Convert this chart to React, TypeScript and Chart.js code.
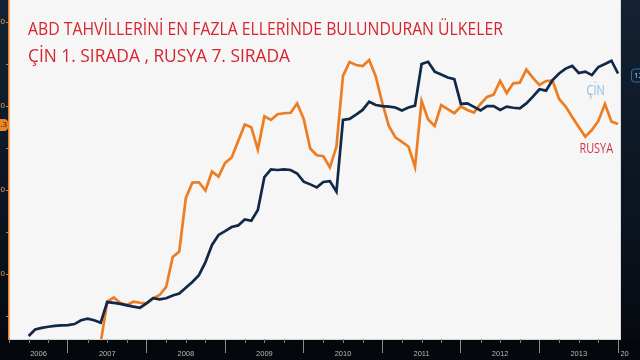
import React, { useEffect, useRef } from 'react';
import { Chart, registerables } from 'chart.js';
Chart.register(...registerables);

// Monthly data, July 2006 .. January 2014 (index 0 = Jul 2006, index 6 = Jan 2007)
const START_YEAR = 2006;
const START_MONTH = 7;

// China holdings of US Treasuries (bn $), right axis
const chinaValues = [
  303, 327, 333, 337, 340, 342, 343, 347, 361, 367, 361, 352,
  428, 425, 421, 416, 411, 407, 423, 442, 438, 442, 452, 459,
  481, 502, 527, 575, 638, 675, 689, 704, 710, 732, 727, 767,
  888, 916, 914, 916, 914, 901, 871, 861, 850, 870, 873, 834,
  1098, 1102, 1118, 1135, 1165, 1153, 1149, 1147, 1144, 1133, 1144, 1151,
  1304, 1312, 1276, 1265, 1254, 1248, 1157, 1159, 1146, 1133, 1149, 1149,
  1135, 1147, 1143, 1141, 1159, 1184, 1211, 1206, 1245, 1269, 1287, 1297,
  1271, 1276, 1263, 1293, 1304, 1316, 1269,
];

// Russia holdings of US Treasuries (bn $), left axis
const russiaValues = [
  null, null, null, null, null, null, null, null, null, null, null, 9,
  33.5, 36.0, 32.7, 31.6, 33.5, 32.9, 32.6, 35.5, 37.5, 42.3, 60.1, 63.4,
  95.2, 104.4, 104.6, 99.7, 111.0, 108.0, 116.1, 119.4, 129.2, 139.0, 137.3, 124.1,
  143.8, 141.7, 145.1, 145.7, 146.0, 151.5, 142.3, 124.7, 120.7, 120.1, 113.4, 125.8,
  167.9, 176.2, 174.4, 173.8, 177.4, 167.6, 151.8, 138.1, 131.3, 128.6, 125.9, 113.7,
  153.0, 142.0, 138.1, 150.6, 148.2, 145.7, 149.7, 147.6, 146.1, 151.2, 155.4, 156.8,
  164.9, 157.7, 163.5, 163.9, 171.7, 166.7, 162.5, 164.9, 165.1, 154.2, 149.7, 143.5,
  137.5, 131.8, 135.7, 141.1, 151.2, 140.7, 139.3,
];

const yearLabels = ['2006', '2007', '2008', '2009', '2010', '2011', '2012', '2013', '20'];
const russiaTicks = [50, 100, 150, 200];
const russiaMinorTicks = [25, 75, 125, 175];
const titleLines = [
  'ABD TAHVİLLERİNİ EN FAZLA ELLERİNDE BULUNDURAN ÜLKELER',
  'ÇİN 1. SIRADA , RUSYA 7. SIRADA',
];
const seriesNames = ['ÇİN', 'RUSYA'];

const X_MIN = -3;
const X_MAX = 90.3;
const FIRST_JAN = 13 - START_MONTH; // index of January of the year after start

const monthLabels = chinaValues.map((_, i) => {
  const m = START_MONTH - 1 + i;
  return `${START_YEAR + Math.floor(m / 12)}-${String((m % 12) + 1).padStart(2, '0')}`;
});

const FONT = "'Open Sans', 'DejaVu Sans', sans-serif";

const bgPlugin = {
  id: 'bg',
  beforeDraw(chart: any) {
    const { ctx, width, height, chartArea } = chart;
    ctx.save();
    ctx.fillStyle = '#04070b';
    ctx.fillRect(0, 0, width, height);
    const gr = ctx.createLinearGradient(0, 0, 0, height);
    gr.addColorStop(0, '#142233');
    gr.addColorStop(0.6, '#0b1420');
    gr.addColorStop(1, '#05080c');
    ctx.fillStyle = gr;
    ctx.fillRect(chartArea.right, 0, width - chartArea.right, chartArea.bottom);
    ctx.fillRect(0, 0, chartArea.left, chartArea.bottom);
    ctx.fillStyle = '#f6f6f6';
    ctx.fillRect(chartArea.left, chartArea.top, chartArea.right - chartArea.left, chartArea.bottom - chartArea.top);
    ctx.restore();
  },
};

const overlayPlugin = {
  id: 'overlay',
  afterDraw(chart: any) {
    const { ctx, chartArea } = chart;
    const xs = chart.scales.x;
    const yl = chart.scales.yL;
    const yr = chart.scales.yR;
    ctx.save();

    // quarterly minor ticks on the time axis
    ctx.strokeStyle = '#808080';
    ctx.lineWidth = 1;
    for (let q = FIRST_JAN - 12; q <= X_MAX; q += 3) {
      if ((q - FIRST_JAN) % 12 === 0 || q < X_MIN) continue;
      const px = Math.round(xs.getPixelForValue(q)) + 0.5;
      ctx.beginPath();
      ctx.moveTo(px, chartArea.bottom);
      ctx.lineTo(px, chartArea.bottom + 4);
      ctx.stroke();
    }

    // title
    ctx.font = `19px ${FONT}`;
    ctx.fillStyle = '#d6242f';
    ctx.textBaseline = 'alphabetic';
    ctx.textAlign = 'left';
    const widths = [475, 262];
    const baselines = [34.5, 61.5];
    titleLines.forEach((line, k) => {
      const w = ctx.measureText(line).width;
      ctx.save();
      ctx.translate(28, 0);
      ctx.scale(widths[k] / w, 1);
      ctx.fillText(line, 0, baselines[k]);
      ctx.restore();
    });

    // series names
    ctx.font = `14px ${FONT}`;
    ctx.save();
    ctx.translate(xs.getPixelForValue(85.2), 0);
    ctx.scale(0.78, 1);
    ctx.fillStyle = '#8dbae4';
    ctx.fillText(seriesNames[0], 0, yr.getPixelForValue(1190));
    ctx.restore();
    ctx.save();
    ctx.translate(xs.getPixelForValue(84.1), 0);
    ctx.scale(0.78, 1);
    ctx.fillStyle = '#d0304a';
    ctx.fillText(seriesNames[1], 0, yl.getPixelForValue(122));
    ctx.restore();

    // last value tags
    const lastC = chinaValues[chinaValues.length - 1];
    const cy = yr.getPixelForValue(lastC) + 2;
    ctx.fillStyle = '#0c2036';
    ctx.strokeStyle = '#3d6c9c';
    ctx.beginPath();
    ctx.roundRect(631.5, cy - 6.5, 30, 13, 3);
    ctx.fill();
    ctx.stroke();
    ctx.fillStyle = '#b9d4ee';
    ctx.font = `8px ${FONT}`;
    ctx.textBaseline = 'middle';
    ctx.fillText(String(lastC), 634, cy);

    const lastR = russiaValues[russiaValues.length - 1] as number;
    const ry = yl.getPixelForValue(lastR) + 1;
    ctx.fillStyle = '#ef8424';
    ctx.beginPath();
    ctx.roundRect(-20, ry - 6, 28, 12, 4);
    ctx.fill();
    ctx.fillStyle = '#2a1400';
    ctx.textAlign = 'right';
    ctx.fillText(lastR.toFixed(1), 7, ry);
    ctx.restore();
  },
};

function yearCentre(k: number) {
  const start = FIRST_JAN + (k - 1) * 12;
  const a = Math.max(X_MIN, start);
  const b = Math.min(X_MAX, start + 12);
  if (b - a < 1) return 91;
  return (a + b) / 2;
}

export default function App() {
  const ref = useRef<HTMLCanvasElement>(null);
  useEffect(() => {
    const labelTickValues = yearLabels.map((_, k) => yearCentre(k));
    const boundaryValues: number[] = [];
    for (let v = FIRST_JAN; v <= X_MAX; v += 12) boundaryValues.push(v);

    const chart = new Chart(ref.current as HTMLCanvasElement, {
      type: 'line',
      data: {
        labels: monthLabels,
        datasets: [
          {
            label: 'Çin',
            data: chinaValues.map((v, i) => ({ x: i, y: v })),
            yAxisID: 'yR',
            borderColor: '#112848',
            borderWidth: 2.7,
            pointRadius: 0,
            tension: 0,
          },
          {
            label: 'Rusya',
            data: russiaValues.map((v, i) => ({ x: i, y: v })),
            yAxisID: 'yL',
            borderColor: '#ee7d22',
            borderWidth: 2.7,
            pointRadius: 0,
            tension: 0,
            spanGaps: false,
          },
        ],
      } as any,
      options: {
        responsive: false,
        animation: false,
        devicePixelRatio: 1,
        layout: { padding: 0 },
        plugins: { legend: { display: false }, tooltip: { enabled: false }, title: { display: false } },
        scales: {
          x: {
            type: 'linear',
            position: 'bottom',
            min: X_MIN,
            max: X_MAX,
            afterBuildTicks: (s: any) => {
              s.ticks = [
                ...boundaryValues.map((v) => ({ value: v, label: '' })),
                ...labelTickValues.map((v) => ({ value: v })),
              ];
            },
            afterFit: (s: any) => {
              s.height = 21;
              s.paddingLeft = 0;
              s.paddingRight = 0;
            },
            ticks: {
              autoSkip: false,
              maxRotation: 0,
              minRotation: 0,
              padding: -4,
              color: '#b8b8b8',
              font: { size: 7.5, family: "'Liberation Sans', sans-serif" },
              callback: (v: any) => {
                const k = labelTickValues.indexOf(Number(v));
                return k >= 0 ? yearLabels[k] : '';
              },
            },
            grid: {
              display: true,
              drawOnChartArea: false,
              drawTicks: true,
              tickLength: 14,
              tickColor: (c: any) => (c.tick && labelTickValues.includes(c.tick.value) ? 'rgba(0,0,0,0)' : '#8c8c8c'),
            },
            border: { display: true, color: '#d4d4d4', width: 1 },
          },
          yL: {
            type: 'linear',
            position: 'left',
            min: 11.31,
            max: 213.1,
            afterBuildTicks: (s: any) => {
              s.ticks = [...russiaMinorTicks, ...russiaTicks].sort((a, b) => a - b).map((v) => ({ value: v }));
            },
            afterFit: (s: any) => {
              s.width = 9;
              s.paddingTop = 0;
              s.paddingBottom = 0;
            },
            ticks: {
              padding: 1,
              color: '#e6a56a',
              font: { size: 8, family: "'Liberation Sans', sans-serif" },
              callback: (v: any) => (russiaTicks.includes(Number(v)) ? String(v) : ''),
            },
            grid: { drawOnChartArea: false, drawTicks: true, tickLength: 3, tickColor: '#e07a22' },
            border: { display: true, color: '#ec7c22', width: 1.5 },
          },
          yR: {
            type: 'linear',
            position: 'right',
            min: 292,
            max: 1539.5,
            afterFit: (s: any) => {
              s.width = 20;
              s.paddingTop = 0;
              s.paddingBottom = 0;
            },
            ticks: { display: false },
            grid: { display: false },
            border: { display: true, color: '#d8dadc', width: 1 },
          },
        },
      } as any,
      plugins: [bgPlugin, overlayPlugin],
    });
    return () => chart.destroy();
  }, []);

  return (
    <div style={{ position: 'fixed', left: 0, top: 0, width: 640, height: 360, background: '#04070b' }}>
      <canvas ref={ref} width={640} height={360} style={{ display: 'block', width: 640, height: 360 }} />
    </div>
  );
}
